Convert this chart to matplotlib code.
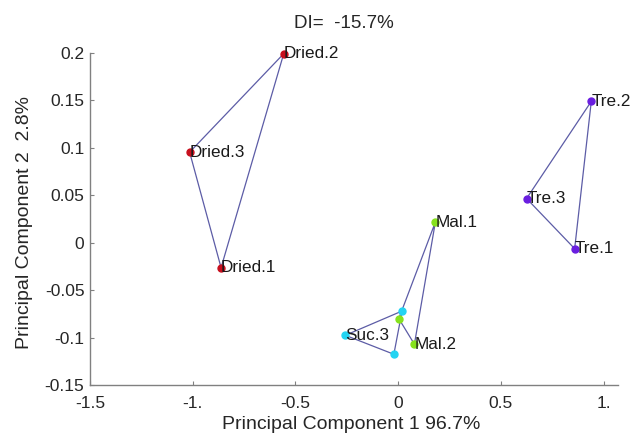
import matplotlib
matplotlib.use("Agg")
import matplotlib.pyplot as plt

plt.rcParams['font.family'] = ['Liberation Sans', 'DejaVu Sans']

# Data (PC1, PC2) per group
dried_names = ["Dried.1", "Dried.2", "Dried.3"]
dried_x = [-0.862, -0.557, -1.015]
dried_y = [-0.0263, 0.1993, 0.0954]

tre_names = ["Tre.1", "Tre.2", "Tre.3"]
tre_x = [0.859, 0.940, 0.625]
tre_y = [-0.0063, 0.149, 0.0466]

mal_names = ["Mal.1", "Mal.2", "Mal.3"]
mal_x = [0.181, 0.079, 0.003]
mal_y = [0.0217, -0.107, -0.080]

suc_names = ["Suc.1", "Suc.2", "Suc.3"]
suc_x = [0.019, -0.021, -0.257]
suc_y = [-0.072, -0.1176, -0.0976]

shown_labels = {"Dried.1", "Dried.2", "Dried.3", "Tre.1", "Tre.2", "Tre.3",
                "Mal.1", "Mal.2", "Suc.3"}

xticks = [-1.5, -1.0, -0.5, 0.0, 0.5, 1.0]
xticklabels = ["-1.5", "-1.", "-0.5", "0", "0.5", "1."]
yticks = [-0.15, -0.1, -0.05, 0.0, 0.05, 0.1, 0.15, 0.2]
yticklabels = ["-0.15", "-0.1", "-0.05", "0", "0.05", "0.1", "0.15", "0.2"]

title = "DI=  -15.7%"
xlabel = "Principal Component 1 96.7%"
ylabel = "Principal Component 2  2.8%"

fig = plt.figure(figsize=(6.33, 4.34), dpi=100)
ax = fig.add_axes([90/633, 1-385/434, (618-90)/633, (385-53)/434])

groups = [
    (dried_names, dried_x, dried_y, "#c8101e"),
    (tre_names, tre_x, tre_y, "#6a1ee0"),
    (mal_names, mal_x, mal_y, "#86e21c"),
    (suc_names, suc_x, suc_y, "#22d4f2"),
]
line_color = "#5c5ca6"
for names, xs, ys, col in groups:
    ax.plot(xs + [xs[0]], ys + [ys[0]], color=line_color, lw=0.9, zorder=1, clip_on=False)
for names, xs, ys, col in groups:
    ax.plot(xs, ys, linestyle="none", marker="o", ms=5, mfc=col, mec=col,
            zorder=3, clip_on=False)
    for n, x, y in zip(names, xs, ys):
        if n in shown_labels:
            ax.text(x, y, n, ha="left", va="center", fontsize=12.3,
                    color="#1a1a1a", zorder=4)

ax.set_xlim(-1.5, 1.07)
ax.set_ylim(-0.15, 0.2)
ax.set_xticks(xticks)
ax.set_xticklabels(xticklabels)
ax.set_yticks(yticks)
ax.set_yticklabels(yticklabels)

for s in ["top", "right"]:
    ax.spines[s].set_visible(False)
for s in ["left", "bottom"]:
    ax.spines[s].set_color("#808080")
    ax.spines[s].set_linewidth(1.0)
ax.tick_params(direction="in", length=3, color="#808080", labelsize=12.5, labelcolor="#262626")
ax.tick_params(axis="x", pad=8)
ax.tick_params(axis="y", pad=4)

ax.set_xlabel(xlabel, fontsize=14, color="#262626")
ax.set_ylabel(ylabel, fontsize=14, color="#262626")
ax.xaxis.set_label_coords(0.494, -0.12)
ax.xaxis.label.set_va("center")
ax.yaxis.set_label_coords(-0.124, 0.49)
ax.yaxis.label.set_va("center")
fig.text(344/633, 1-23/434, title, ha="center", va="center", fontsize=13.5, color="#262626")

fig.savefig("out.png", dpi=100)
